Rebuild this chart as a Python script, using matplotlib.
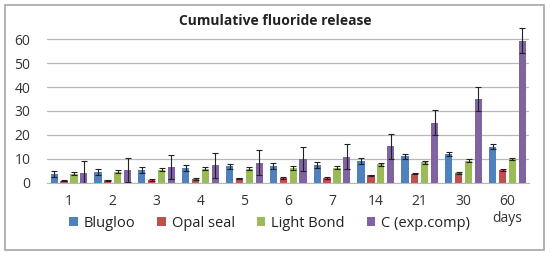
import matplotlib.pyplot as plt
import numpy as np
from matplotlib.patches import Rectangle

plt.rcParams['font.family'] = ['Open Sans', 'DejaVu Sans']

# days of measurement
days = ['1', '2', '3', '4', '5', '6', '7', '14', '21', '30', '60\ndays']

# mean values
blugloo = [3.5, 4.5, 5.4, 6.0, 6.8, 7.0, 7.5, 9.2, 11.1, 12.0, 15.1]
opal_seal = [0.8, 1.0, 1.2, 1.6, 1.9, 1.9, 2.0, 3.0, 3.8, 3.9, 5.3]
light_bond = [3.7, 4.6, 5.5, 5.8, 5.9, 6.2, 6.3, 7.6, 8.5, 9.2, 9.9]
c_exp = [4.0, 5.3, 6.6, 7.2, 8.4, 9.9, 10.9, 15.2, 25.1, 34.9, 59.4]

# standard deviations
blugloo_err = [1.3, 1.2, 1.3, 1.2, 1.2, 1.1, 1.2, 1.2, 1.0, 1.0, 1.1]
opal_err = [0.2, 0.3, 0.3, 0.3, 0.2, 0.3, 0.3, 0.3, 0.3, 0.4, 0.3]
light_err = [0.7, 0.7, 0.7, 0.7, 0.7, 0.8, 0.7, 0.6, 0.6, 0.5, 0.5]
c_err = [5.2, 5.2, 5.0, 5.2, 5.2, 4.9, 5.1, 5.1, 5.3, 5.0, 5.3]

series = [
    ('Blugloo', blugloo, blugloo_err, '#4F81BD'),
    ('Opal seal', opal_seal, opal_err, '#C0504D'),
    ('Light Bond', light_bond, light_err, '#9BBB59'),
    ('C (exp.comp)', c_exp, c_err, '#8064A2'),
]

fig = plt.figure(figsize=(5.5, 2.58), dpi=100)
# outer chart frame
fig.patches.append(Rectangle((0.009, 0.03), 0.98, 0.95, transform=fig.transFigure,
                             fill=False, edgecolor='#A6A6A6', linewidth=1.2))

ax = fig.add_axes([0.0855, 0.292, 0.877, 0.607])
x = np.arange(len(days))
width = 0.165
step = 0.225

for i, (name, vals, errs, col) in enumerate(series):
    ax.bar(x + (i - 1.5) * step, vals, width, yerr=errs, color=col, label=name,
           error_kw=dict(ecolor='#222222', elinewidth=0.8, capsize=2.5, capthick=0.8))

ax.set_xlim(-0.5, len(days) - 0.5)
ax.set_ylim(0, 65.5)
ax.set_yticks(range(0, 61, 10))
ax.set_xticks(x)
ax.set_xticklabels(days)
ax.tick_params(length=0, labelsize=10, colors='#333333')
ax.tick_params(axis='y', pad=12)
ax.tick_params(axis='x', pad=8)
ax.set_axisbelow(True)
ax.yaxis.grid(True, color='#B8B8B8', linewidth=0.9)
for s in ['top', 'right', 'left']:
    ax.spines[s].set_visible(False)
ax.spines['bottom'].set_color('#B8B8B8')

fig.text(0.5, 0.92, 'Cumulative fluoride release', ha='center', va='center',
         fontsize=10, fontweight='bold', color='#222222')

fig.legend(loc='center', bbox_to_anchor=(0.49, 0.135), ncol=4, frameon=False,
           fontsize=10.5, handlelength=0.6, handleheight=0.6, handletextpad=0.4,
           columnspacing=1.5, labelcolor='#222222')

plt.savefig('out.png', dpi=100)
